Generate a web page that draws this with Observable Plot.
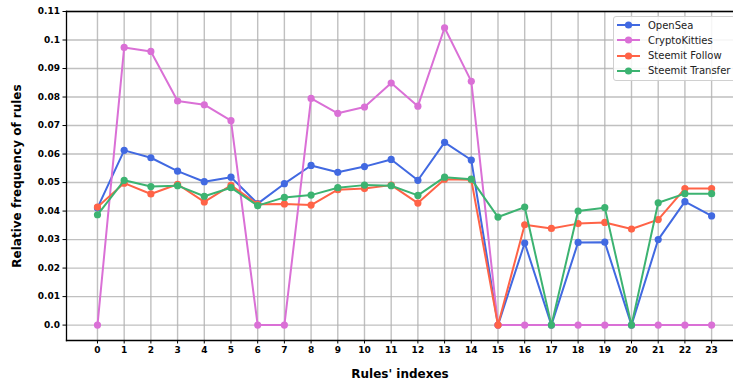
<!DOCTYPE html>
<html>
<head>
<meta charset="utf-8">
<script src="https://cdn.jsdelivr.net/npm/d3@7"></script>
<script src="https://cdn.jsdelivr.net/npm/@observablehq/plot@0.6"></script>
<style>
  html, body { margin: 0; padding: 0; background: #fff; }
  #wrap { position: relative; width: 733px; height: 383px; overflow: hidden; font-family: "DejaVu Sans", sans-serif; }
  #legend { position: absolute; left: 613px; top: 16px; width: 135px; height: 63px; border: 1px solid #d0d0d0; border-radius: 3px; background: rgba(255,255,255,0.85); }
  .row { position: absolute; left: 0; height: 14px; display: flex; align-items: center; font-size: 10px; color: #222; white-space: nowrap; }
  .row svg { margin-left: 3px; margin-right: 7px; }
</style>
</head>
<body>
<div id="wrap"></div>
<script>
const ruleIndexes = d3.range(0, 24);
const seriesNames = ["OpenSea", "CryptoKitties", "Steemit Follow", "Steemit Transfer"];
const seriesColors = ["#4169e1", "#da70d6", "#ff6347", "#3cb371"];

const openSea = [0.0411, 0.0613, 0.0587, 0.0540, 0.0503, 0.0519, 0.0426, 0.0496, 0.0560, 0.0536, 0.0556, 0.0581,
                 0.0508, 0.0641, 0.0579, 0.0, 0.0288, 0.0, 0.0290, 0.0291, 0.0, 0.0300, 0.0433, 0.0383];
const cryptoKitties = [0.0, 0.0974, 0.0960, 0.0786, 0.0773, 0.0717, 0.0, 0.0, 0.0795, 0.0743, 0.0765, 0.0849,
                       0.0768, 0.1043, 0.0855, 0.0, 0.0, 0.0, 0.0, 0.0, 0.0, 0.0, 0.0, 0.0];
const steemitFollow = [0.0414, 0.0498, 0.0460, 0.0494, 0.0432, 0.0490, 0.0424, 0.0425, 0.0421, 0.0475, 0.0479, 0.0491,
                       0.0428, 0.0512, 0.0510, 0.0, 0.0352, 0.0339, 0.0356, 0.0360, 0.0337, 0.0370, 0.0479, 0.0479];
const steemitTransfer = [0.0387, 0.0508, 0.0486, 0.0489, 0.0452, 0.0482, 0.0419, 0.0448, 0.0456, 0.0482, 0.0491, 0.0489,
                         0.0455, 0.0519, 0.0512, 0.0379, 0.0414, 0.0, 0.0400, 0.0412, 0.0, 0.0429, 0.0461, 0.0461];
const yTicks = d3.range(0, 12).map(i => i / 100);

const seriesValues = [openSea, cryptoKitties, steemitFollow, steemitTransfer];
const table = seriesNames.flatMap((name, s) => ruleIndexes.map((x, i) => ({series: name, x, y: seriesValues[s][i]})));

const seriesMarks = seriesNames.flatMap(name => {
  const d = table.filter(r => r.series === name);
  return [
    Plot.line(d, {x: "x", y: "y", stroke: "series", strokeWidth: 2}),
    Plot.dot(d, {x: "x", y: "y", fill: "series", r: 3.6, stroke: "none"})
  ];
});

const fmt = d => d === 0 ? "0.0" : String(+d.toFixed(2));

const chart = Plot.plot({
  width: 733,
  height: 383,
  marginLeft: 66,
  marginRight: 0,
  marginTop: 11,
  marginBottom: 43,
  style: {fontFamily: "DejaVu Sans, sans-serif", fontSize: "9px", fontWeight: "bold", color: "#000", background: "#fff"},
  x: {type: "linear", domain: [-1.16, 23.82]},
  y: {domain: [-0.0054, 0.11]},
  color: {domain: seriesNames, range: seriesColors},
  marks: [
    Plot.gridX(ruleIndexes, {stroke: "#b0b0b0", strokeOpacity: 0.8, strokeWidth: 1.4}),
    Plot.gridY(yTicks, {stroke: "#b0b0b0", strokeOpacity: 0.8, strokeWidth: 1.4}),
    Plot.axisX(ruleIndexes, {tickSize: 3.5, tickPadding: 3, tickFormat: d => String(d), fontSize: 9, fontWeight: "bold",
      label: "Rules' indexes", labelAnchor: "center", labelArrow: "none", labelOffset: 37}),
    Plot.axisY(yTicks, {tickSize: 3.5, tickPadding: 3, tickFormat: fmt, fontSize: 9, fontWeight: "bold",
      label: "Relative frequency of rules", labelAnchor: "center", labelArrow: "none", labelOffset: 54}),
    ...seriesMarks,
    Plot.frame({anchor: "left", stroke: "#000", strokeWidth: 1.3}),
    Plot.frame({anchor: "bottom", stroke: "#000", strokeWidth: 1.3}),
    Plot.frame({anchor: "top", stroke: "#000", strokeWidth: 1.3})
  ]
});

chart.querySelectorAll("[aria-label='x-axis label'], [aria-label='y-axis label']").forEach(g => {
  g.setAttribute("font-size", "12");
  g.style.fontSize = "12px";
});

const wrap = document.getElementById("wrap");
wrap.appendChild(chart);

const legend = document.createElement("div");
legend.id = "legend";
seriesNames.forEach((name, i) => {
  const row = document.createElement("div");
  row.className = "row";
  row.style.top = (1 + i * 15.3) + "px";
  row.innerHTML = `<svg width="24" height="10"><line x1="0" y1="5" x2="23" y2="5" stroke="${seriesColors[i]}" stroke-width="2"/><circle cx="11.5" cy="5" r="3.6" fill="${seriesColors[i]}"/></svg><span>${name}</span>`;
  legend.appendChild(row);
});
wrap.appendChild(legend);
</script>
</body>
</html>
